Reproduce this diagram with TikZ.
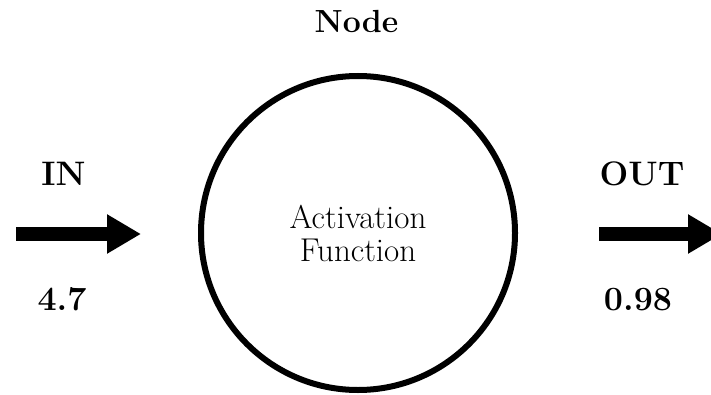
\documentclass[tikz,border=0pt]{standalone}
\usetikzlibrary{arrows.meta}
\begin{document}
\begin{tikzpicture}[x=1pt,y=1pt,
  lbl/.style={font=\fontsize{34}{38}\selectfont\bfseries, anchor=base, inner sep=0pt},
  bigarrow/.style={line width=14pt, -{Triangle[length=34pt,width=37pt]}},
  neuron/.style={circle, draw, line width=6pt, minimum size=314pt, inner sep=0pt,
    font=\fontsize{33}{37}\selectfont, align=center}]
\useasboundingbox (0,0) rectangle (711,394);
\clip (0,0) rectangle (711,394);
\node[neuron] (act) at (358,161) {Activation\\[-4pt]Function};
\node[lbl, font=\fontsize{32}{36}\selectfont\bfseries] (title) at (356.5,361) {Node};
\node[lbl] (in) at (63.5,208.5) {IN};
\node[lbl] (inval) at (62,84) {4.7};
\node[lbl] (out) at (642,208.5) {OUT};
\node[lbl] (outval) at (638,84) {0.98};
\coordinate (inS) at (16,160);
\coordinate (inE) at (141,160);
\coordinate (outS) at (599,160);
\coordinate (outE) at (722,160);
\draw[bigarrow] (inS) -- (inE);
\draw[bigarrow] (outS) -- (outE);
\end{tikzpicture}
\end{document}
